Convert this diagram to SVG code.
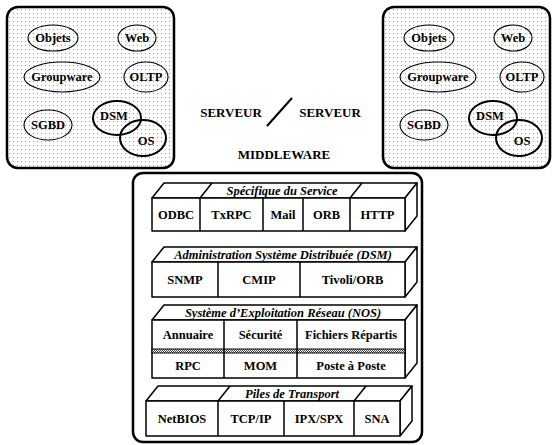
<svg xmlns="http://www.w3.org/2000/svg" width="554" height="445" viewBox="0 0 554 445" font-family="'Liberation Serif', 'Times New Roman', serif">
<defs>
<pattern id="dots" width="4" height="4" patternUnits="userSpaceOnUse"><rect width="4" height="4" fill="#fff"/><rect x="1" y="1" width="1" height="1" fill="#999"/></pattern>
<pattern id="hatch" width="2" height="2" patternUnits="userSpaceOnUse"><rect width="2" height="2" fill="#fff"/><rect width="1" height="1" fill="#444"/><rect x="1" y="1" width="1" height="1" fill="#444"/></pattern>
</defs>
<style>
.box{fill:url(#dots);stroke:#000;stroke-width:2.5}
.mid{fill:#fff;stroke:#000;stroke-width:2.5}
.el{fill:none;stroke:#000;stroke-width:1.1}
.elb{fill:none;stroke:#000;stroke-width:2}
.f{fill:#fff;stroke:#000;stroke-width:1.5;stroke-linejoin:round}
.ln{stroke:#000;stroke-width:1.5;fill:none}
text{font-family:"Liberation Serif","Times New Roman",serif;font-weight:bold;font-size:12.5px;text-anchor:middle;fill:#000}
.it{font-style:italic}
.big{font-size:13px}
</style>
<g id="serveur-gauche">
<rect class="box" x="7" y="7" width="167" height="161" rx="11"/>
<ellipse class="el" cx="53" cy="38" rx="25" ry="13"/><text x="53" y="42">Objets</text>
<ellipse class="el" cx="137" cy="38" rx="19" ry="13"/><text x="137" y="42">Web</text>
<ellipse class="el" cx="62" cy="77" rx="38" ry="15"/><text x="62" y="81">Groupware</text>
<ellipse class="el" cx="146" cy="77" rx="22" ry="15"/><text x="146" y="81">OLTP</text>
<ellipse class="el" cx="48" cy="125" rx="24" ry="15"/><text x="48" y="129">SGBD</text>
<ellipse class="elb" cx="117" cy="118" rx="24" ry="17"/><text x="114" y="120">DSM</text>
<ellipse class="elb" cx="143" cy="138" rx="23" ry="18"/><text x="146" y="145">OS</text>
</g>
<g id="serveur-droit">
<rect class="box" x="383" y="7" width="167" height="161" rx="11"/>
<ellipse class="el" cx="429" cy="38" rx="25" ry="13"/><text x="429" y="42">Objets</text>
<ellipse class="el" cx="513" cy="38" rx="19" ry="13"/><text x="513" y="42">Web</text>
<ellipse class="el" cx="438" cy="77" rx="38" ry="15"/><text x="438" y="81">Groupware</text>
<ellipse class="el" cx="522" cy="77" rx="22" ry="15"/><text x="522" y="81">OLTP</text>
<ellipse class="el" cx="424" cy="125" rx="24" ry="15"/><text x="424" y="129">SGBD</text>
<ellipse class="elb" cx="493" cy="118" rx="24" ry="17"/><text x="490" y="120">DSM</text>
<ellipse class="elb" cx="519" cy="138" rx="23" ry="18"/><text x="522" y="145">OS</text>
</g>
<g id="titre">
<text class="big" x="231" y="117">SERVEUR</text>
<line x1="267" y1="126" x2="292" y2="98" stroke="#000" stroke-width="2"/>
<text class="big" x="330" y="117">SERVEUR</text>
<text class="big" x="284" y="159">MIDDLEWARE</text>
</g>
<g id="middleware">
<rect class="mid" x="133" y="173" width="289" height="269" rx="10"/>
</g>
<g id="service">
<polygon class="f" points="152,198 164,183 417,183 405,198"/>
<polygon class="f" points="405,198 417,183 417,216 405,231"/>
<rect class="f" x="152" y="198" width="253" height="33"/>
<path class="ln" d="M200,198V231M263,198V231M303,198V231M350,198V231M200,198L212,183M350,198L362,183"/>
<text class="it" x="282" y="194.5">Spécifique  du Service</text>
<text x="176" y="219">ODBC</text><text x="231.5" y="219">TxRPC</text><text x="283" y="219">Mail</text><text x="326.5" y="219">ORB</text><text x="377.5" y="219">HTTP</text>
</g>
<g id="dsm">
<polygon class="f" points="152,262 164,247 417,247 405,262"/>
<polygon class="f" points="405,262 417,247 417,282 405,297"/>
<rect class="f" x="152" y="262" width="253" height="35"/>
<path class="ln" d="M218,262V297M300,262V297"/>
<text class="it" x="283" y="259">Administration Système Distribuée  (DSM)</text>
<text x="185" y="284">SNMP</text><text x="259" y="284">CMIP</text><text x="352.5" y="284">Tivoli/ORB</text>
</g>
<g id="nos">
<polygon class="f" points="152,320 164,305 417,305 405,320"/>
<polygon class="f" points="405,320 417,305 417,363 405,378"/>
<rect class="f" x="152" y="320" width="253" height="58"/>
<rect x="152" y="349" width="253" height="4" fill="url(#hatch)" stroke="#000" stroke-width="1"/>
<path class="ln" d="M224,320V378M297,320V378"/>
<text class="it" x="283" y="317">Système d’Exploitation Réseau  (NOS)</text>
<text x="188" y="339">Annuaire</text><text x="260.5" y="339">Sécurité</text><text x="351" y="339">Fichiers Répartis</text>
<text x="188" y="370">RPC</text><text x="260.5" y="370">MOM</text><text x="351" y="370">Poste à Poste</text>
</g>
<g id="transport">
<polygon class="f" points="146,401 158,386 412,386 400,401"/>
<polygon class="f" points="400,401 412,386 412,421 400,436"/>
<rect class="f" x="146" y="401" width="254" height="35"/>
<path class="ln" d="M218,401V436M284,401V436M354,401V436M218,401L230,386M354,401L366,386"/>
<text class="it" x="292" y="398">Piles  de  Transport</text>
<text x="182" y="423">NetBIOS</text><text x="251" y="423">TCP/IP</text><text x="319" y="423">IPX/SPX</text><text x="377" y="423">SNA</text>
</g>
</svg>
